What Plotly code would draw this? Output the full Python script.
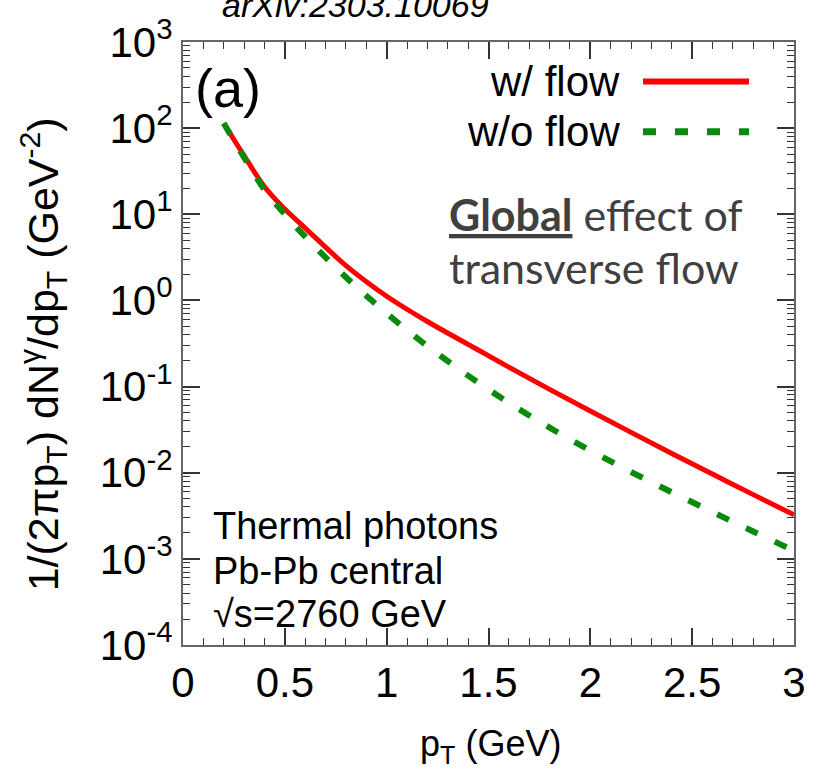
import plotly.graph_objects as go

# Thermal photon spectra, Pb-Pb central collisions at sqrt(s)=2760 GeV
pt = [0.2, 0.3, 0.4, 0.5, 0.6, 0.8, 1.0, 1.2, 1.4, 1.6, 1.8, 2.0,
      2.2, 2.4, 2.6, 2.8, 3.0]
with_flow = [114, 47.9, 20.9, 11.5, 6.92, 2.54, 1.12, 0.569, 0.309, 0.168,
             0.0929, 0.052, 0.0294, 0.01675, 0.00964, 0.00557, 0.00324]
without_flow = [114, 45.7, 19.3, 10.0, 5.5, 1.86, 0.708, 0.295, 0.134,
                0.0649, 0.0334, 0.0181, 0.0102, 0.00594, 0.0035, 0.00208,
                0.00124]

y_exponents = [-4, -3, -2, -1, 0, 1, 2, 3]
y_ticktext = [f"10<sup>{e}</sup>" for e in y_exponents]
y_tickvals = [10.0 ** e for e in y_exponents]
minor_mult = [2, 3, 4, 5, 6, 7, 8, 9]
y_minor = [m * 10.0 ** e for e in y_exponents[:-1] for m in minor_mult]

RED = "#ff0000"
GREEN = "#0a8a0a"
FONT = "Liberation Sans"
AXIS = "#666666"
TICK = "#333333"

fig = go.Figure()
fig.add_trace(go.Scatter(x=pt, y=with_flow, mode="lines", name="w/ flow",
                         line=dict(color=RED, width=5, shape="spline")))
# second curve lives on the twin axes (same ranges) so they can carry the
# tick marks of the bottom/left frame edges
fig.add_trace(go.Scatter(x=pt, y=without_flow, mode="lines", name="w/o flow",
                         xaxis="x2", yaxis="y2",
                         line=dict(color=GREEN, width=6, dash="13px,19px",
                                   shape="spline")))

x_common = dict(range=[0, 3], dtick=0.5, tick0=0,
                ticks="inside", ticklen=17, tickwidth=1.5, tickcolor=TICK,
                showline=True, linecolor=AXIS, linewidth=2, mirror="ticks",
                showgrid=False, zeroline=False,
                minor=dict(dtick=0.1, ticks="inside", ticklen=7, tickwidth=1,
                           tickcolor=TICK, showgrid=False))
y_common = dict(type="log", range=[-4, 3],
                tickmode="array", tickvals=y_tickvals, ticktext=y_ticktext,
                ticks="inside", ticklen=17, tickwidth=1.5, tickcolor=TICK,
                showline=True, linecolor=AXIS, linewidth=2, mirror="ticks",
                showgrid=False, zeroline=False,
                minor=dict(tickmode="array", tickvals=y_minor, ticks="inside",
                           ticklen=7, tickwidth=1, tickcolor=TICK,
                           showgrid=False))

fig.update_layout(
    xaxis=dict(**x_common, side="bottom",
               tickfont=dict(family=FONT, size=42, color="#000000")),
    yaxis=dict(**y_common, side="left",
               tickfont=dict(family=FONT, size=42, color="#000000")),
    xaxis2=dict(**x_common, side="top", overlaying="x", anchor="y",
                showticklabels=False),
    yaxis2=dict(**y_common, side="right", overlaying="y", anchor="x",
                showticklabels=False),
)

annotations = [
    dict(text="(a)", x=193, y=80, xanchor="left", yanchor="middle",
         font=dict(family=FONT, size=54, color="#000000")),
    dict(text="w/ flow", x=622, y=73, xanchor="right", yanchor="middle",
         font=dict(family=FONT, size=42, color="#000000")),
    dict(text="w/o flow", x=622, y=124, xanchor="right", yanchor="middle",
         font=dict(family=FONT, size=42, color="#000000")),
    dict(text="<span style='text-decoration:underline'><b>Global</b></span>"
              " effect of", x=447, y=208, xanchor="left", yanchor="middle",
         font=dict(family="Lato", size=43, color="#404040")),
    dict(text="transverse flow", x=447, y=262, xanchor="left",
         yanchor="middle", font=dict(family="Lato", size=43, color="#404040")),
    dict(text="Thermal photons", x=211, y=524, xanchor="left",
         yanchor="middle", font=dict(family=FONT, size=38, color="#000000")),
    dict(text="Pb-Pb central", x=211, y=570, xanchor="left",
         yanchor="middle", font=dict(family=FONT, size=38, color="#000000")),
    dict(text="\u221as=2760 GeV", x=211, y=614, xanchor="left",
         yanchor="middle", font=dict(family=FONT, size=38, color="#000000")),
    dict(text="p<sub>T</sub> (GeV)", x=490, y=748, xanchor="center",
         yanchor="middle", font=dict(family=FONT, size=36, color="#000000")),
    dict(text="1/(2\u03c0p<sub>T</sub>) dN<sup>\u03b3</sup>/dp<sub>T</sub>"
              " (GeV<sup>-2</sup>)", x=43, y=350, xanchor="center",
         yanchor="middle", textangle=-90,
         font=dict(family=FONT, size=43, color="#000000")),
]

W, H = 820, 778
L, R, T, B = 183, 26, 33, 133
pw, ph = W - L - R, H - T - B


def to_paper(px, py):
    return (px - L) / pw, 1 - (py - T) / ph


for a in annotations:
    a["x"], a["y"] = to_paper(a["x"], a["y"])
    a.update(xref="paper", yref="paper", showarrow=False)

# legend keys drawn next to the right-aligned labels
shapes = []
for (py, color, width, dash) in [(73, RED, 6, "solid"),
                                 (124, GREEN, 7, "13px,19px")]:
    x0, y0 = to_paper(643, py)
    x1, _ = to_paper(749, py)
    shapes.append(dict(type="line", xref="paper", yref="paper",
                       x0=x0, x1=x1, y0=y0, y1=y0, opacity=1,
                       line=dict(color=color, width=width, dash=dash)))

fig.update_layout(
    template="simple_white",
    width=W, height=H,
    margin=dict(l=L, r=R, t=T, b=B),
    plot_bgcolor="white", paper_bgcolor="white",
    showlegend=False,
    title=dict(text="<i>arXiv:2303.10069</i>", xref="container",
               yref="container", x=222 / W, xanchor="left",
               y=1 - 5 / H, yanchor="middle",
               font=dict(family=FONT, size=34, color="#000000")),
    annotations=annotations, shapes=shapes,
    font=dict(family=FONT),
)

fig.write_html("out.html")
